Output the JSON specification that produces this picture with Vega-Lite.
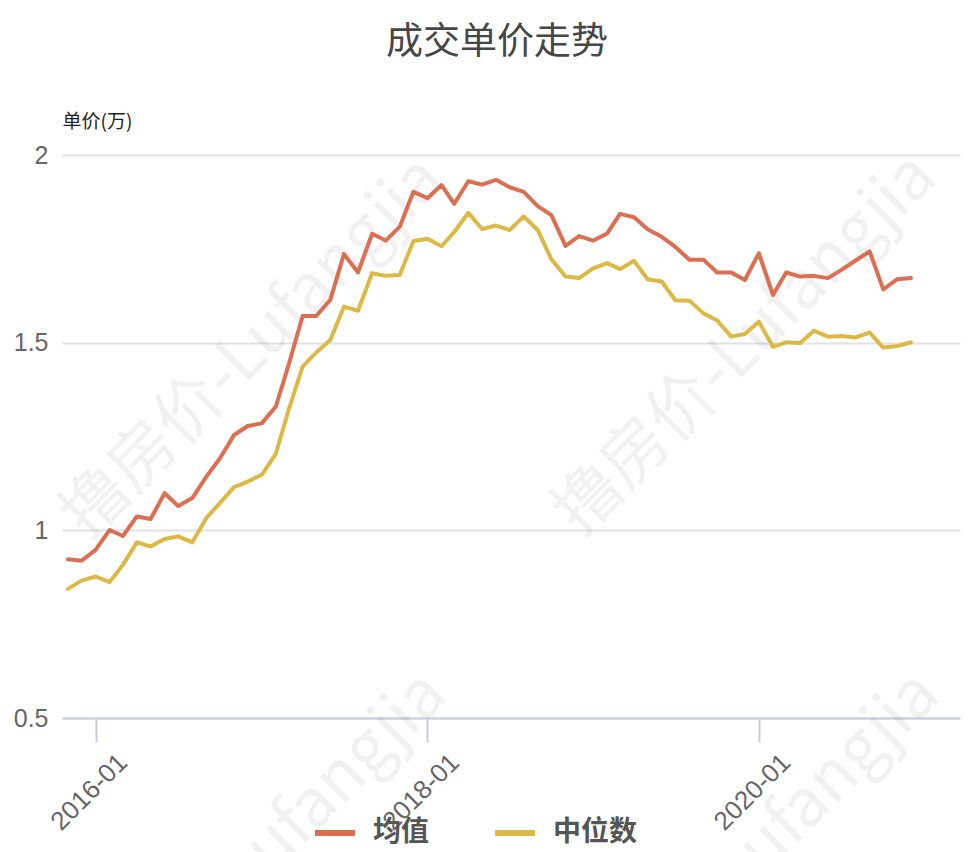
{
  "$schema": "https://vega.github.io/schema/vega-lite/v6.json",
  "width": 898,
  "height": 563,
  "autosize": {"type": "none"},
  "padding": {"left": 62, "top": 155, "right": 18, "bottom": 134},
  "background": "#ffffff",
  "config": {"view": {"stroke": null}},
  "title": {
    "text": "成交单价走势",
    "font": "Noto Sans CJK SC",
    "fontSize": 37,
    "fontWeight": "normal",
    "color": "#464646",
    "anchor": "middle",
    "frame": "group",
    "dx": -14,
    "offset": 50
  },
  "datasets": {
    "price": [
      {"month": "2015-11-01", "均值": 0.923, "中位数": 0.844},
      {"month": "2015-12-01", "均值": 0.919, "中位数": 0.866},
      {"month": "2016-01-01", "均值": 0.948, "中位数": 0.877},
      {"month": "2016-02-01", "均值": 1.001, "中位数": 0.862},
      {"month": "2016-03-01", "均值": 0.985, "中位数": 0.908},
      {"month": "2016-04-01", "均值": 1.037, "中位数": 0.968},
      {"month": "2016-05-01", "均值": 1.030, "中位数": 0.957},
      {"month": "2016-06-01", "均值": 1.099, "中位数": 0.977},
      {"month": "2016-07-01", "均值": 1.065, "中位数": 0.984},
      {"month": "2016-08-01", "均值": 1.086, "中位数": 0.968},
      {"month": "2016-09-01", "均值": 1.143, "中位数": 1.033},
      {"month": "2016-10-01", "均值": 1.192, "中位数": 1.073},
      {"month": "2016-11-01", "均值": 1.254, "中位数": 1.115},
      {"month": "2016-12-01", "均值": 1.278, "中位数": 1.130},
      {"month": "2017-01-01", "均值": 1.285, "中位数": 1.148},
      {"month": "2017-02-01", "均值": 1.330, "中位数": 1.204},
      {"month": "2017-03-01", "均值": 1.440, "中位数": 1.320},
      {"month": "2017-04-01", "均值": 1.571, "中位数": 1.436},
      {"month": "2017-05-01", "均值": 1.571, "中位数": 1.474},
      {"month": "2017-06-01", "均值": 1.614, "中位数": 1.507},
      {"month": "2017-07-01", "均值": 1.736, "中位数": 1.596},
      {"month": "2017-08-01", "均值": 1.687, "中位数": 1.585},
      {"month": "2017-09-01", "均值": 1.790, "中位数": 1.685},
      {"month": "2017-10-01", "均值": 1.772, "中位数": 1.678},
      {"month": "2017-11-01", "均值": 1.809, "中位数": 1.680},
      {"month": "2017-12-01", "均值": 1.902, "中位数": 1.771},
      {"month": "2018-01-01", "均值": 1.885, "中位数": 1.777},
      {"month": "2018-02-01", "均值": 1.920, "中位数": 1.757},
      {"month": "2018-03-01", "均值": 1.870, "中位数": 1.795},
      {"month": "2018-04-01", "均值": 1.930, "中位数": 1.846},
      {"month": "2018-05-01", "均值": 1.921, "中位数": 1.803},
      {"month": "2018-06-01", "均值": 1.934, "中位数": 1.812},
      {"month": "2018-07-01", "均值": 1.914, "中位数": 1.800},
      {"month": "2018-08-01", "均值": 1.902, "中位数": 1.836},
      {"month": "2018-09-01", "均值": 1.864, "中位数": 1.800},
      {"month": "2018-10-01", "均值": 1.840, "中位数": 1.722},
      {"month": "2018-11-01", "均值": 1.758, "中位数": 1.676},
      {"month": "2018-12-01", "均值": 1.784, "中位数": 1.672},
      {"month": "2019-01-01", "均值": 1.772, "中位数": 1.698},
      {"month": "2019-02-01", "均值": 1.791, "中位数": 1.712},
      {"month": "2019-03-01", "均值": 1.843, "中位数": 1.696},
      {"month": "2019-04-01", "均值": 1.834, "中位数": 1.718},
      {"month": "2019-05-01", "均值": 1.802, "中位数": 1.669},
      {"month": "2019-06-01", "均值": 1.782, "中位数": 1.663},
      {"month": "2019-07-01", "均值": 1.755, "中位数": 1.613},
      {"month": "2019-08-01", "均值": 1.721, "中位数": 1.612},
      {"month": "2019-09-01", "均值": 1.721, "中位数": 1.578},
      {"month": "2019-10-01", "均值": 1.687, "中位数": 1.559},
      {"month": "2019-11-01", "均值": 1.687, "中位数": 1.516},
      {"month": "2019-12-01", "均值": 1.667, "中位数": 1.523},
      {"month": "2020-01-01", "均值": 1.738, "中位数": 1.556},
      {"month": "2020-02-01", "均值": 1.627, "中位数": 1.489},
      {"month": "2020-03-01", "均值": 1.687, "中位数": 1.501},
      {"month": "2020-04-01", "均值": 1.676, "中位数": 1.499},
      {"month": "2020-05-01", "均值": 1.678, "中位数": 1.532},
      {"month": "2020-06-01", "均值": 1.672, "中位数": 1.516},
      {"month": "2020-07-01", "均值": 1.694, "中位数": 1.518},
      {"month": "2020-08-01", "均值": 1.719, "中位数": 1.514},
      {"month": "2020-09-01", "均值": 1.743, "中位数": 1.527},
      {"month": "2020-10-01", "均值": 1.642, "中位数": 1.487},
      {"month": "2020-11-01", "均值": 1.669, "中位数": 1.491},
      {"month": "2020-12-01", "均值": 1.672, "中位数": 1.501}
    ],
    "watermark": [
      {"month": "2016-12-13", "value": 1.486, "text": "撸房价-Lufangjia"},
      {"month": "2019-12-03", "value": 1.494, "text": "撸房价-Lufangjia"},
      {"month": "2016-12-20", "value": 0.114, "text": "撸房价-Lufangjia"},
      {"month": "2019-12-10", "value": 0.114, "text": "撸房价-Lufangjia"}
    ]
  },
  "layer": [
    {
      "data": {"name": "watermark"},
      "mark": {"type": "text", "angle": -45, "font": "Noto Sans CJK SC", "fontSize": 66, "fill": "#000000", "opacity": 0.05, "align": "center", "baseline": "middle", "clip": false},
      "encoding": {
        "x": {"field": "month", "type": "temporal"},
        "y": {"field": "value", "type": "quantitative"},
        "text": {"field": "text", "type": "nominal"}
      }
    },
    {
      "data": {"name": "price"},
      "transform": [{"fold": ["均值", "中位数"], "as": ["series", "price"]}],
      "mark": {"type": "line", "strokeWidth": 4, "strokeJoin": "round", "strokeCap": "round"},
      "encoding": {
        "x": {
          "field": "month",
          "type": "temporal",
          "scale": {
            "type": "utc",
            "domain": [
              {"year": 2015, "month": 10, "date": 19, "utc": true},
              {"year": 2021, "month": 3, "date": 19, "utc": true}
            ]
          },
          "axis": {
            "title": null,
            "values": [
              {"year": 2016, "month": 1, "date": 1, "utc": true},
              {"year": 2018, "month": 1, "date": 1, "utc": true},
              {"year": 2020, "month": 1, "date": 1, "utc": true}
            ],
            "format": "%Y-%m",
            "grid": false,
            "domainColor": "#c5cde0",
            "domainWidth": 2,
            "tickColor": "#c5cde0",
            "tickWidth": 2,
            "tickSize": 24,
            "labelAngle": -45,
            "labelAlign": "right",
            "labelBaseline": "middle",
            "labelFont": "Liberation Sans",
            "labelFontSize": 26,
            "labelColor": "#666666",
            "labelPadding": 16,
            "labelOffset": 27
          }
        },
        "y": {
          "field": "price",
          "type": "quantitative",
          "scale": {"domain": [0.5, 2], "zero": false, "nice": false},
          "axis": {
            "title": "单价(万)",
            "titleFont": "Noto Sans CJK SC",
            "titleFontSize": 19,
            "titleFontWeight": "normal",
            "titleColor": "#222222",
            "titleAngle": 0,
            "titleAlign": "left",
            "titleBaseline": "alphabetic",
            "titleX": 0,
            "titleY": -28,
            "values": [0.5, 1, 1.5, 2],
            "format": "~g",
            "domain": false,
            "ticks": false,
            "grid": true,
            "gridColor": "#e2e2e2",
            "gridWidth": 2,
            "labelFont": "Liberation Sans",
            "labelFontSize": 25,
            "labelColor": "#666666",
            "labelPadding": 14
          }
        },
        "color": {
          "field": "series",
          "type": "nominal",
          "scale": {"domain": ["均值", "中位数"], "range": ["#dc6f52", "#dbb944"]},
          "legend": {
            "title": null,
            "orient": "none",
            "direction": "horizontal",
            "legendX": 250,
            "legendY": 655,
            "symbolType": "stroke",
            "symbolSize": 1600,
            "symbolStrokeWidth": 6,
            "labelFont": "Noto Sans CJK SC",
            "labelFontSize": 28,
            "labelFontWeight": "bold",
            "labelColor": "#555555",
            "labelOffset": 15,
            "columnPadding": 53
          }
        }
      }
    }
  ]
}
